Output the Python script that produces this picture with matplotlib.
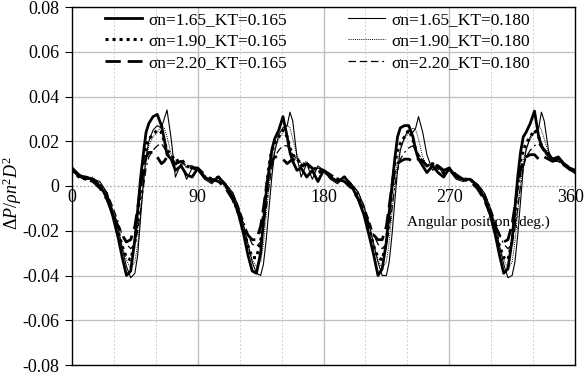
import matplotlib
matplotlib.use("Agg")
import matplotlib.pyplot as plt

plt.rcParams['font.family'] = ['Liberation Serif', 'DejaVu Serif']
plt.rcParams['mathtext.fontset'] = 'custom'
plt.rcParams['mathtext.rm'] = 'Liberation Serif'
plt.rcParams['mathtext.it'] = 'Liberation Serif:italic'

angle = [0, 5, 10, 15, 20, 25, 29, 33, 36, 39, 42, 45, 47, 49, 51, 53, 55, 58, 61, 64, 66, 68, 71, 74, 78, 82, 86,
         90, 95, 100, 105, 110, 115, 119, 123, 126, 129, 132, 135, 137, 139, 141, 143, 145, 148, 151, 154, 156, 158, 161, 164, 168, 172, 176,
         180, 185, 190, 195, 200, 205, 209, 213, 216, 219, 222, 225, 227, 229, 231, 233, 235, 238, 241, 244, 246, 248, 251, 254, 258, 262, 266,
         270, 275, 280, 285, 290, 295, 299, 303, 306, 309, 312, 315, 317, 319, 321, 323, 325, 328, 331, 334, 336, 338, 341, 344, 348, 352, 356, 360]

s165_165 = [0.008, 0.0045, 0.004, 0.003, 0.000, -0.005, -0.013, -0.023, -0.032, -0.040, -0.038, -0.024, -0.011, 0.003, 0.014, 0.024, 0.028, 0.031, 0.032, 0.027, 0.021, 0.014, 0.012, 0.007, 0.009, 0.005, 0.004,
            0.008, 0.004, 0.002, 0.004, 0.000, -0.005, -0.012, -0.022, -0.031, -0.038, -0.039, -0.030, -0.016, -0.003, 0.007, 0.016, 0.021, 0.025, 0.031, 0.022, 0.015, 0.011, 0.007, 0.008, 0.004, 0.007, 0.002,
            0.007, 0.004, 0.002, 0.004, 0.000, -0.006, -0.013, -0.023, -0.031, -0.040, -0.037, -0.025, -0.012, 0.000, 0.012, 0.022, 0.026, 0.027, 0.027, 0.022, 0.016, 0.012, 0.009, 0.006, 0.009, 0.006, 0.004,
            0.008, 0.004, 0.003, 0.003, 0.000, -0.005, -0.012, -0.022, -0.031, -0.039, -0.037, -0.024, -0.010, 0.004, 0.015, 0.022, 0.024, 0.028, 0.0335, 0.022, 0.018, 0.016, 0.014, 0.012, 0.013, 0.010, 0.008, 0.006]

s165_180 = [0.007, 0.004, 0.003, 0.003, 0.002, -0.003, -0.011, -0.019, -0.028, -0.036, -0.041, -0.039, -0.031, -0.015, 0.001, 0.013, 0.020, 0.025, 0.027, 0.026, 0.030, 0.034, 0.021, 0.004, 0.010, 0.003, 0.008,
            0.007, 0.003, 0.001, 0.004, 0.001, -0.003, -0.009, -0.018, -0.026, -0.034, -0.039, -0.040, -0.035, -0.024, -0.010, 0.004, 0.015, 0.023, 0.026, 0.027, 0.033, 0.029, 0.013, 0.004, 0.010, 0.003, 0.009,
            0.007, 0.003, 0.001, 0.004, 0.001, -0.003, -0.009, -0.018, -0.026, -0.034, -0.040, -0.040, -0.034, -0.022, -0.007, 0.007, 0.016, 0.022, 0.025, 0.024, 0.026, 0.031, 0.024, 0.014, 0.007, 0.009, 0.005,
            0.007, 0.003, 0.002, 0.003, 0.001, -0.003, -0.009, -0.018, -0.027, -0.035, -0.041, -0.040, -0.034, -0.022, -0.007, 0.008, 0.016, 0.022, 0.024, 0.026, 0.033, 0.029, 0.016, 0.011, 0.012, 0.009, 0.007, 0.006]

s190_165 = [0.007, 0.004, 0.003, 0.003, 0.000, -0.005, -0.012, -0.020, -0.027, -0.032, -0.033, -0.025, -0.014, -0.002, 0.010, 0.018, 0.021, 0.023, 0.025, 0.024, 0.020, 0.016, 0.014, 0.011, 0.012, 0.009, 0.008,
            0.008, 0.004, 0.003, 0.004, 0.000, -0.005, -0.012, -0.020, -0.027, -0.032, -0.032, -0.025, -0.013, -0.002, 0.009, 0.016, 0.019, 0.022, 0.025, 0.022, 0.017, 0.014, 0.012, 0.010, 0.008, 0.009, 0.006,
            0.007, 0.004, 0.003, 0.004, 0.000, -0.005, -0.012, -0.020, -0.027, -0.032, -0.033, -0.025, -0.013, -0.001, 0.010, 0.016, 0.019, 0.022, 0.025, 0.021, 0.016, 0.013, 0.011, 0.009, 0.010, 0.008, 0.006,
            0.008, 0.004, 0.003, 0.003, 0.000, -0.005, -0.012, -0.020, -0.027, -0.032, -0.033, -0.025, -0.012, 0.000, 0.011, 0.016, 0.019, 0.022, 0.025, 0.022, 0.018, 0.016, 0.014, 0.012, 0.012, 0.010, 0.008, 0.007]

s190_180 = [0.007, 0.004, 0.003, 0.004, 0.001, -0.003, -0.010, -0.019, -0.027, -0.033, -0.037, -0.034, -0.026, -0.013, 0.000, 0.011, 0.018, 0.022, 0.024, 0.027, 0.026, 0.022, 0.014, 0.009, 0.011, 0.008, 0.009,
            0.007, 0.003, 0.002, 0.004, 0.001, -0.003, -0.010, -0.019, -0.027, -0.033, -0.036, -0.034, -0.026, -0.013, 0.000, 0.010, 0.017, 0.021, 0.024, 0.027, 0.026, 0.021, 0.014, 0.010, 0.011, 0.008, 0.008,
            0.007, 0.003, 0.002, 0.004, 0.001, -0.003, -0.010, -0.019, -0.027, -0.033, -0.037, -0.034, -0.025, -0.012, 0.001, 0.011, 0.017, 0.021, 0.024, 0.026, 0.025, 0.021, 0.013, 0.009, 0.010, 0.008, 0.007,
            0.008, 0.004, 0.003, 0.003, 0.001, -0.003, -0.010, -0.019, -0.027, -0.033, -0.037, -0.034, -0.025, -0.012, 0.001, 0.011, 0.017, 0.021, 0.024, 0.027, 0.025, 0.021, 0.015, 0.012, 0.012, 0.010, 0.008, 0.007]

s220_165 = [0.008, 0.005, 0.003, 0.002, -0.001, -0.006, -0.012, -0.018, -0.022, -0.025, -0.024, -0.018, -0.010, -0.001, 0.007, 0.013, 0.015, 0.015, 0.013, 0.010, 0.011, 0.013, 0.012, 0.010, 0.011, 0.009, 0.008,
            0.008, 0.005, 0.003, 0.002, -0.001, -0.006, -0.012, -0.018, -0.022, -0.024, -0.024, -0.018, -0.010, -0.001, 0.007, 0.011, 0.013, 0.013, 0.012, 0.010, 0.011, 0.012, 0.011, 0.009, 0.010, 0.008, 0.008,
            0.007, 0.005, 0.003, 0.002, -0.001, -0.006, -0.012, -0.018, -0.022, -0.024, -0.024, -0.018, -0.009, 0.000, 0.007, 0.010, 0.011, 0.012, 0.012, 0.011, 0.011, 0.012, 0.011, 0.009, 0.010, 0.009, 0.007,
            0.008, 0.005, 0.003, 0.002, -0.001, -0.006, -0.012, -0.018, -0.022, -0.025, -0.024, -0.017, -0.009, 0.000, 0.007, 0.011, 0.013, 0.014, 0.014, 0.012, 0.012, 0.013, 0.012, 0.011, 0.012, 0.010, 0.008, 0.007]

s220_180 = [0.007, 0.004, 0.003, 0.003, 0.001, -0.003, -0.009, -0.016, -0.022, -0.026, -0.028, -0.026, -0.020, -0.011, -0.001, 0.008, 0.013, 0.016, 0.018, 0.019, 0.017, 0.015, 0.013, 0.010, 0.011, 0.009, 0.009,
            0.007, 0.004, 0.002, 0.004, 0.001, -0.003, -0.009, -0.016, -0.022, -0.026, -0.027, -0.025, -0.019, -0.010, 0.000, 0.008, 0.013, 0.016, 0.018, 0.018, 0.016, 0.014, 0.012, 0.010, 0.010, 0.008, 0.008,
            0.007, 0.004, 0.002, 0.004, 0.001, -0.003, -0.009, -0.016, -0.022, -0.026, -0.028, -0.026, -0.019, -0.010, 0.000, 0.007, 0.012, 0.015, 0.017, 0.018, 0.016, 0.014, 0.012, 0.009, 0.010, 0.008, 0.007,
            0.008, 0.004, 0.003, 0.003, 0.001, -0.003, -0.009, -0.016, -0.022, -0.026, -0.028, -0.026, -0.019, -0.010, 0.000, 0.008, 0.013, 0.016, 0.018, 0.019, 0.017, 0.015, 0.013, 0.011, 0.011, 0.009, 0.008, 0.007]

labels = ["σn=1.65_KT=0.165", "σn=1.90_KT=0.165", "σn=2.20_KT=0.165",
          "σn=1.65_KT=0.180", "σn=1.90_KT=0.180", "σn=2.20_KT=0.180"]
series = [s165_165, s190_165, s220_165, s165_180, s190_180, s220_180]
styles = [dict(lw=2.0, ls='-'),
          dict(lw=2.2, ls=(0, (1, 1.3))),
          dict(lw=2.0, ls=(0, (5.5, 2.5))),
          dict(lw=0.8, ls='-'),
          dict(lw=0.7, ls=(0, (1, 1.2))),
          dict(lw=0.9, ls=(0, (6, 3, 6, 3, 6, 3, 1.5, 3)))]

xticks = [0, 90, 180, 270, 360]
yticks = [-0.08, -0.06, -0.04, -0.02, 0, 0.02, 0.04, 0.06, 0.08]
ytick_labels = ["-0.08", "-0.06", "-0.04", "-0.02", "0", "0.02", "0.04", "0.06", "0.08"]

fig = plt.figure(figsize=(5.87, 3.74), dpi=100)
ax = fig.add_axes([72/587, 1-365/374, (575-72)/587, (365-7)/374])

# grid
for v in yticks:
    if v == 0:
        ax.axhline(v, color='#a6a6a6', lw=0.9, ls=(0, (1.5, 1.5)), zorder=1)
    else:
        ax.axhline(v, color='#bfbfbf', lw=0.9, zorder=1)
for v in range(30, 360, 30):
    if v % 90 == 0:
        ax.axvline(v, color='#bfbfbf', lw=1.0, zorder=1)
    else:
        ax.axvline(v, color='#d0d0d0', lw=0.7, ls=(0, (2, 2)), zorder=1)

lines = []
for y, lab, st in zip(series, labels, styles):
    ln, = ax.plot(angle, y, color='black', label=lab, zorder=3, **st)
    lines.append(ln)

ax.set_xlim(0, 360)
ax.set_ylim(-0.08, 0.08)
ax.set_yticks(yticks)
ax.set_yticklabels(ytick_labels, fontsize=13)
ax.tick_params(axis='y', direction='out', length=5, width=0.8, pad=4)
ax.set_xticks([])
for sp in ax.spines.values():
    sp.set_linewidth(1.0)
    sp.set_color('black')

for t in xticks:
    dx = -3 if t == xticks[-1] else 0
    ax.annotate(str(t), xy=(t, 0), xycoords='data', xytext=(dx, -2.5), textcoords='offset points',
                ha='center', va='top', fontsize=13)

ax.text(478/587, 1-222/374, "Angular position (deg.)", transform=fig.transFigure,
        ha='center', va='center', fontsize=11)

fig.text(12/587, 1-193/374, r"$\mathit{ΔP/ρn^2D^2}$", rotation=90, ha='center', va='center',
         fontsize=13)

leg = ax.legend(handles=lines, loc='upper left', bbox_to_anchor=(105/587, 1-11.5/374),
                bbox_transform=fig.transFigure, ncol=2, frameon=False, fontsize=12.5,
                handlelength=2.15, handletextpad=0.35, columnspacing=3.5,
                labelspacing=0.32, borderpad=0, borderaxespad=0)

fig.savefig("out.png", dpi=100)
